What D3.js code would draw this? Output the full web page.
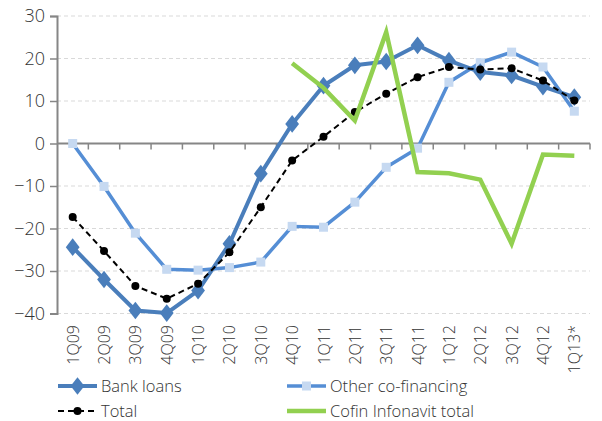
<!DOCTYPE html>
<html><head><meta charset="utf-8">
<script src="https://cdn.jsdelivr.net/npm/d3@7/dist/d3.min.js"></script>
<style>
html,body{margin:0;padding:0;background:#fff;}
text{font-family:"Open Sans",Lato,sans-serif;font-weight:300;fill:#333;}
</style></head><body>
<svg id="c" width="602" height="421"></svg>
<script>
const categories = ["1Q09","2Q09","3Q09","4Q09","1Q10","2Q10","3Q10","4Q10","1Q11","2Q11","3Q11","4Q11","1Q12","2Q12","3Q12","4Q12","1Q13*"];
const bankLoans = [-24.4,-32.0,-39.3,-39.9,-34.6,-23.6,-7.1,4.6,13.6,18.4,19.3,23.1,19.5,16.8,16.0,13.4,10.9];
const otherCofin = [0.0,-10.1,-21.1,-29.6,-29.8,-29.2,-27.9,-19.5,-19.7,-13.8,-5.6,-1.1,14.4,19.0,21.5,18.0,7.6];
const total = [-17.3,-25.3,-33.5,-36.5,-33.0,-25.6,-15.0,-4.0,1.6,7.4,11.7,15.6,18.0,17.4,17.7,14.8,10.1];
const cofinInfonavit = [null,null,null,null,null,null,null,18.9,13.1,5.4,26.2,-6.7,-7.0,-8.5,-23.6,-2.6,-2.9];
const yTicks = [30,20,10,0,-10,-20,-30,-40];

const FONT = "'Open Sans',Lato,sans-serif";
const svg = d3.select("#c");
const x = d3.scaleBand().domain(categories).range([57,590]);
const y = d3.scaleLinear().domain([-40,30]).range([313.5,16]);
const cx = d => x(d) + x.bandwidth()/2;

// gridlines
svg.append("g").selectAll("line").data(yTicks.filter(t=>t!==0)).join("line")
  .attr("x1",57).attr("x2",590).attr("y1",d=>y(d)).attr("y2",d=>y(d))
  .attr("stroke","#d9d9d9").attr("stroke-width",1).attr("stroke-dasharray","4,3");

// y axis
const yAxis = svg.append("g").attr("transform","translate(57,0)")
  .call(d3.axisLeft(y).tickValues(yTicks).tickSize(7).tickPadding(5).tickFormat(d3.format("d")));
yAxis.select(".domain").attr("stroke","#868686").attr("stroke-width",2);
yAxis.selectAll(".tick line").attr("stroke","#868686").attr("stroke-width",1.5);
yAxis.selectAll(".tick text").attr("font-size",18).style("font-family",FONT).style("font-weight",300).attr("fill","#333");

// x axis at zero
svg.append("line").attr("x1",57).attr("x2",590).attr("y1",y(0)).attr("y2",y(0))
  .attr("stroke","#868686").attr("stroke-width",2);
const bounds = categories.map(c=>x(c)+x.bandwidth());
svg.append("g").selectAll("line").data(bounds).join("line")
  .attr("x1",d=>d).attr("x2",d=>d).attr("y1",y(0)).attr("y2",y(0)+6)
  .attr("stroke","#868686").attr("stroke-width",1.5);

// x labels rotated
svg.append("g").selectAll("text").data(categories).join("text")
  .attr("transform",d=>`translate(${cx(d)+6},${325}) rotate(-90)`)
  .attr("text-anchor","end").attr("font-size",16).text(d=>d);

const line = arr => d3.line().defined(d=>d!=null).x((d,i)=>cx(categories[i])).y(d=>y(d))(arr);

// Other co-financing
svg.append("path").attr("d",line(otherCofin)).attr("fill","none").attr("stroke","#558ed5").attr("stroke-width",3.5).attr("stroke-linejoin","round");
svg.append("g").selectAll("rect").data(otherCofin).join("rect")
  .attr("x",(d,i)=>cx(categories[i])-4.5).attr("y",d=>y(d)-4.5).attr("width",9).attr("height",9).attr("fill","#c6d9f1");

// Bank loans
svg.append("path").attr("d",line(bankLoans)).attr("fill","none").attr("stroke","#4a7ebb").attr("stroke-width",4).attr("stroke-linejoin","round");
const diamond = d3.symbol().type(d3.symbolDiamond).size(90);
svg.append("g").selectAll("path").data(bankLoans).join("path")
  .attr("d",diamond).attr("transform",(d,i)=>`translate(${cx(categories[i])},${y(d)}) scale(1.35,1)`).attr("fill","#4a7ebb");

// Total
svg.append("path").attr("d",line(total)).attr("fill","none").attr("stroke","#000").attr("stroke-width",2).attr("stroke-dasharray","6,4");
svg.append("g").selectAll("circle").data(total).join("circle")
  .attr("cx",(d,i)=>cx(categories[i])).attr("cy",d=>y(d)).attr("r",4).attr("fill","#000");

// Cofin Infonavit total
svg.append("path").attr("d",line(cofinInfonavit)).attr("fill","none").attr("stroke","#92d050").attr("stroke-width",4.5).attr("stroke-linejoin","miter");

// legend
const leg = svg.append("g");
const items = [
  {name:"Bank loans", x:58, y:386, type:"bank"},
  {name:"Other co-financing", x:287, y:386, type:"other"},
  {name:"Total", x:58, y:411, type:"total"},
  {name:"Cofin Infonavit total", x:287, y:411, type:"cofin"}
];
items.forEach(it=>{
  const g = leg.append("g");
  const l = g.append("line").attr("x1",it.x).attr("x2",it.x+39).attr("y1",it.y).attr("y2",it.y);
  if(it.type==="bank"){ l.attr("stroke","#4a7ebb").attr("stroke-width",4);
    g.append("path").attr("d",diamond).attr("transform",`translate(${it.x+19.5},${it.y}) scale(1.35,1)`).attr("fill","#4a7ebb"); }
  if(it.type==="other"){ l.attr("stroke","#558ed5").attr("stroke-width",3.5);
    g.append("rect").attr("x",it.x+15).attr("y",it.y-4.5).attr("width",9).attr("height",9).attr("fill","#c6d9f1"); }
  if(it.type==="total"){ l.attr("stroke","#000").attr("stroke-width",2).attr("stroke-dasharray","6,4");
    g.append("circle").attr("cx",it.x+19.5).attr("cy",it.y).attr("r",4).attr("fill","#000"); }
  if(it.type==="cofin"){ l.attr("stroke","#92d050").attr("stroke-width",4.5); }
  g.append("text").attr("x",it.x+43).attr("y",it.y+5.5).attr("font-size",16.5).text(it.name);
});
</script></body></html>
